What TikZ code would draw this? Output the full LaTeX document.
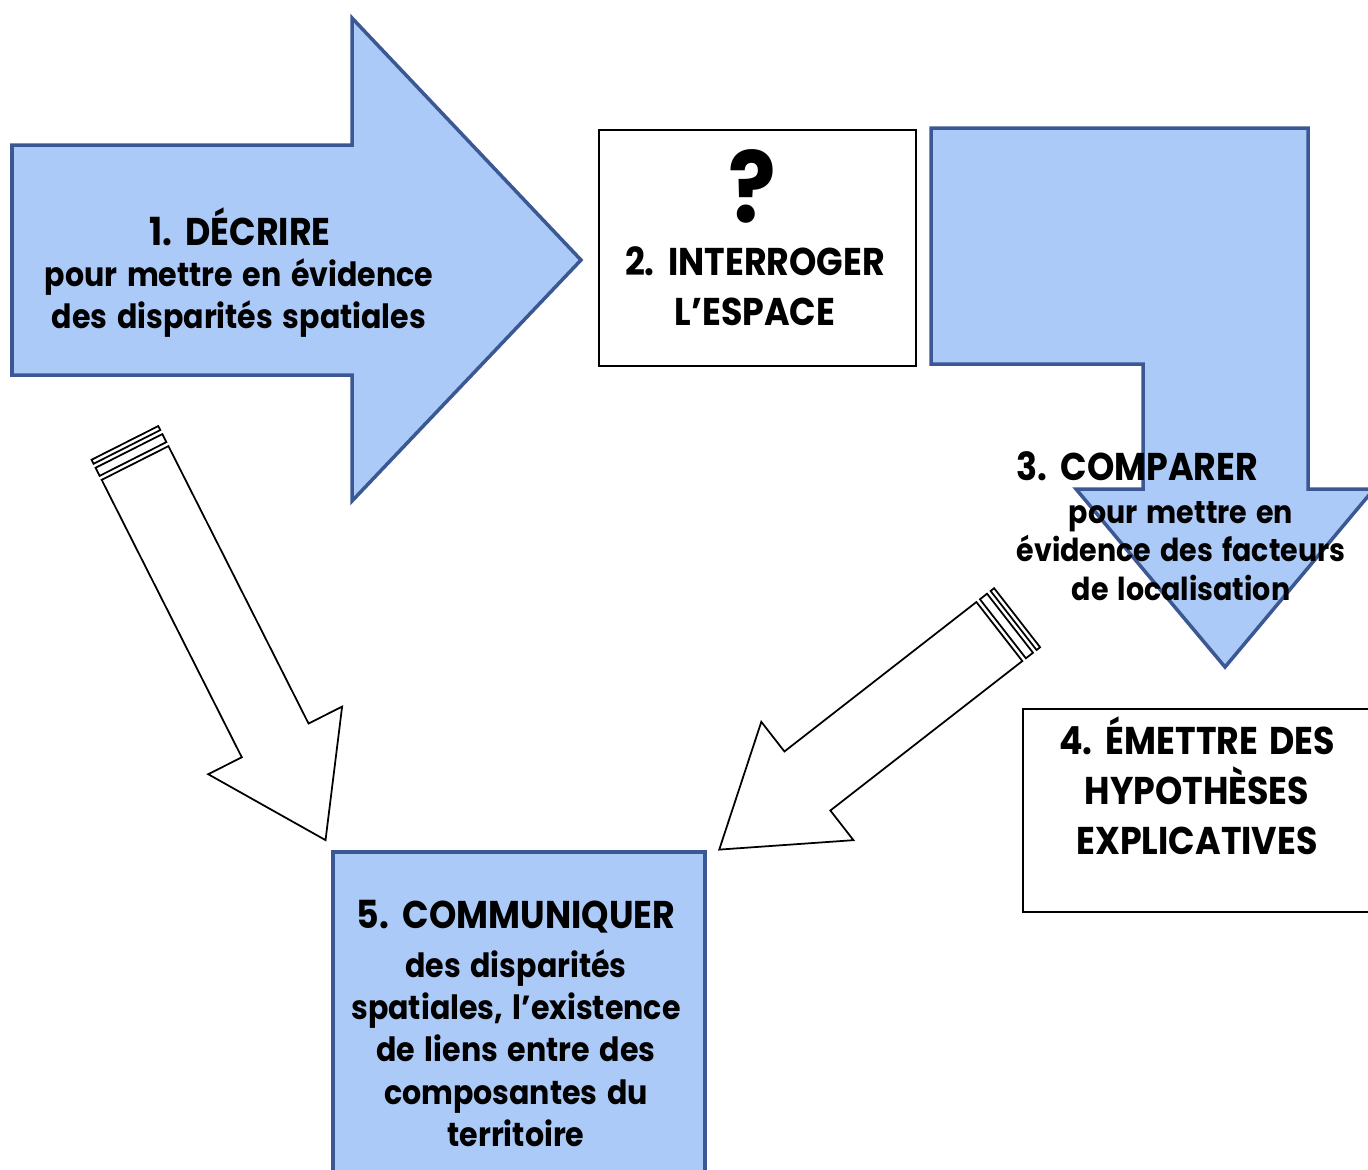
\documentclass[tikz,border=0pt]{standalone}
\usepackage{fontspec}
\setmainfont{Poppins}[FakeStretch=0.9, WordSpace=1.5]
\definecolor{stepblue}{RGB}{172,202,247}
\definecolor{stepedge}{RGB}{60,88,148}

\begin{document}
\begin{tikzpicture}[x=0.01cm, y=-0.01cm,
    bluebox/.style={fill=stepblue, draw=stepedge, line width=1pt, line join=miter},
    whitebox/.style={draw=black, line width=0.6pt},
    hollow/.style={draw=black, fill=white, line width=0.5pt},
    headtext/.style={font=\bfseries\fontsize{11}{13}\selectfont, align=center, inner sep=0pt},
    bodytext/.style={font=\bfseries\fontsize{9.5}{12}\selectfont, align=center, inner sep=0pt},
    smalltext/.style={font=\bfseries\fontsize{9}{11}\selectfont, align=center, inner sep=0pt},
    bigtext/.style={font=\bfseries\fontsize{11}{14.2}\selectfont, align=center, inner sep=0pt}]
    \useasboundingbox (0,0) rectangle (1368,1169);

    % Draw the arrow of step 1
    \draw[bluebox] (12,145) -- (352,145) -- (352,18) -- (581,260) -- (352,501)
        -- (352,375) -- (12,375) -- cycle;
    \node[headtext] (decrire) at (240,227) {1. DÉCRIRE};
    \node[bodytext] (decrireb) at (239,298) {pour mettre en évidence\\des disparités spatiales};

    % Draw the box of step 2
    \draw[whitebox] (599,130) rectangle (916,366);
    \node[font=\bfseries\fontsize{28}{30}\selectfont, inner sep=0pt] (quest) at (752,186) {?};
    \node[bigtext] (interroger) at (755,286) {2. INTERROGER\\L’ESPACE};

    % Draw the bent arrow of step 3
    \draw[bluebox] (931,128) -- (1308,128) -- (1308,489) -- (1374,489) -- (1225,667)
        -- (1076,489) -- (1143,489) -- (1143,364) -- (931,364) -- cycle;
    \node[headtext] (comparer) at (1137,466) {3. COMPARER};
    \node[smalltext] (comparerb) at (1181,551) {pour mettre en\\évidence des facteurs\\de localisation};

    % Draw the box of step 4
    \draw[whitebox] (1023,709) rectangle (1372,912);
    \node[bigtext] (emettre) at (1197,786) {4. ÉMETTRE DES\\HYPOTHÈSES\\EXPLICATIVES};

    % Draw the box of step 5
    \draw[bluebox] (333,852) rectangle (705,1175);
    \node[headtext] (communiquer) at (516,917) {5. COMMUNIQUER};
    \node[bodytext] (communiquerb) at (516,1048) {des disparités\\spatiales, l’existence\\de liens entre des\\composantes du\\territoire};

    % Draw the striped arrow from step 1 to step 5
    \begin{scope}[shift={(124.9,442.9)}, rotate=-63.2]
        \draw[hollow] (0,-37.4) rectangle (4.5,37.4);
        \draw[hollow] (9,-37.4) rectangle (18,37.4);
        \draw[hollow] (22.5,-37.4) -- (333.3,-37.4) -- (333.3,-75) -- (445,0)
            -- (333.3,75) -- (333.3,37.4) -- (22.5,37.4) -- cycle;
    \end{scope}

    % Draw the striped arrow from step 4 to step 5
    \begin{scope}[shift={(1017.1,617.7)}, rotate=-142.1]
        \draw[hollow] (0,-37.4) rectangle (4.5,37.4);
        \draw[hollow] (9,-37.4) rectangle (18,37.4);
        \draw[hollow] (22.5,-37.4) -- (265.8,-37.4) -- (265.8,-75) -- (377.5,0)
            -- (265.8,75) -- (265.8,37.4) -- (22.5,37.4) -- cycle;
    \end{scope}

\end{tikzpicture}
\end{document}
